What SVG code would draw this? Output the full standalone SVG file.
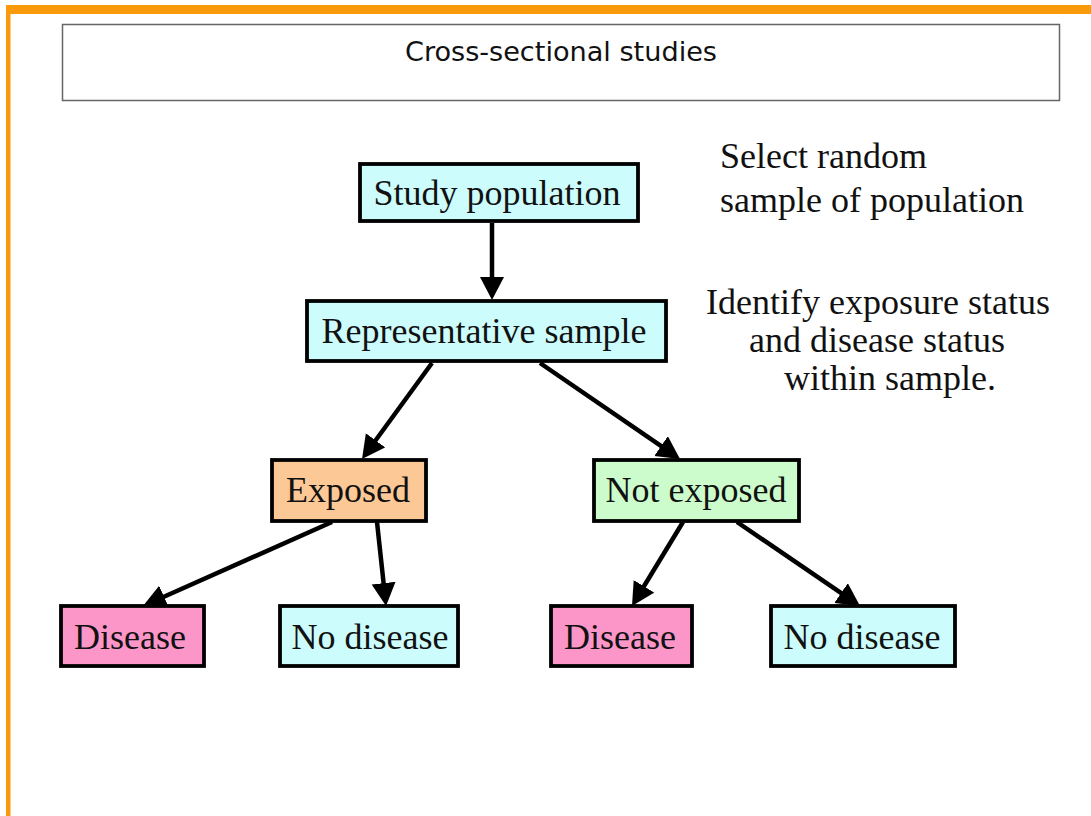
<svg xmlns="http://www.w3.org/2000/svg" width="1091" height="816" viewBox="0 0 1091 816">
<style>
.node rect{stroke:#000;stroke-width:3.8}
.cyan{fill:#ccfcfc}
.peach{fill:#fcc896}
.green{fill:#ccfccc}
.pink{fill:#fc96c8}
.lbl{font-family:"Liberation Serif","Times New Roman",serif;font-size:36px;fill:#111;text-anchor:middle}
.note{font-family:"Liberation Serif","Times New Roman",serif;font-size:36px;fill:#111}
.edge{stroke:#000;stroke-width:4.5;fill:none;marker-end:url(#ah)}
</style>
<defs>
<marker id="ah" markerUnits="userSpaceOnUse" markerWidth="26" markerHeight="26" refX="2" refY="12" orient="auto">
<path d="M0,0 L23,12 L0,24 z" fill="#000"/>
</marker>
</defs>
<rect x="0" y="0" width="1091" height="816" fill="#fff"/>
<rect x="6" y="5" width="1085" height="9" fill="#fa9a0a"/>
<rect x="6" y="5" width="4.5" height="811" fill="#fa9a0a"/>
<g id="title">
<rect x="62.5" y="24.5" width="997" height="76" fill="#fff" stroke="#666" stroke-width="1.5"/>
<text x="561" y="61" font-family="'DejaVu Sans','Liberation Sans',sans-serif" font-stretch="condensed" font-size="27" fill="#111" text-anchor="middle" textLength="312" lengthAdjust="spacingAndGlyphs">Cross-sectional studies</text>
</g>
<g id="connectors">
<line class="edge" x1="492" y1="223" x2="492" y2="279"/>
<line class="edge" x1="432" y1="363" x2="374.4" y2="442"/>
<line class="edge" x1="540" y1="363" x2="662.7" y2="447.2"/>
<line class="edge" x1="332" y1="522" x2="162.2" y2="597.5"/>
<line class="edge" x1="377" y1="522" x2="383.8" y2="585.1"/>
<line class="edge" x1="683" y1="522" x2="642.9" y2="588"/>
<line class="edge" x1="737" y1="522" x2="842.7" y2="594.2"/>
</g>
<g id="study-population" class="node">
<rect class="cyan" x="360" y="164" width="278" height="57"/>
<text class="lbl" x="497" y="205">Study population</text>
</g>
<g id="representative-sample" class="node">
<rect class="cyan" x="307" y="301" width="359" height="60"/>
<text class="lbl" x="484" y="343">Representative sample</text>
</g>
<g id="exposed" class="node">
<rect class="peach" x="272" y="460" width="154" height="61"/>
<text class="lbl" x="348" y="502">Exposed</text>
</g>
<g id="not-exposed" class="node">
<rect class="green" x="594" y="460" width="205" height="61"/>
<text class="lbl" x="696" y="502">Not exposed</text>
</g>
<g id="disease-exposed" class="node">
<rect class="pink" x="61" y="606" width="143" height="60"/>
<text class="lbl" x="130" y="649">Disease</text>
</g>
<g id="no-disease-exposed" class="node">
<rect class="cyan" x="280" y="606" width="178" height="60"/>
<text class="lbl" x="370" y="649">No disease</text>
</g>
<g id="disease-not-exposed" class="node">
<rect class="pink" x="551" y="606" width="141" height="60"/>
<text class="lbl" x="620" y="649">Disease</text>
</g>
<g id="no-disease-not-exposed" class="node">
<rect class="cyan" x="771" y="606" width="184" height="60"/>
<text class="lbl" x="862" y="649">No disease</text>
</g>
<g id="notes">
<text class="note" x="720" y="168">Select random</text>
<text class="note" x="720" y="212">sample of population</text>
<text class="note" x="706" y="314">Identify exposure status</text>
<text class="note" x="877" y="352" text-anchor="middle">and disease status</text>
<text class="note" x="890" y="390" text-anchor="middle">within sample.</text>
</g>
</svg>
